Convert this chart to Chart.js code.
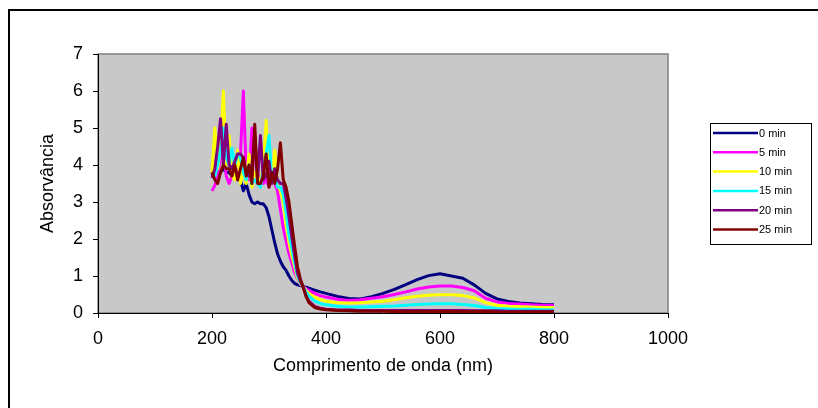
<!DOCTYPE html>
<html>
<head>
<meta charset="utf-8">
<script src="https://cdn.jsdelivr.net/npm/chart.js@4"></script>
<style>
  html, body { margin: 0; padding: 0; background: #fff; }
</style>
</head>
<body>
<canvas id="chart" width="818" height="408"></canvas>
<script>
// ============= DADOS =============
const wavelength = [200,205,210,215,220,225,230,235,240,245,250,255,260,265,270,275,280,285,290,295,300,305,310,315,320,325,330,335,340,
  345,350,355,360,365,370,380,390,400,420,440,460,480,500,520,540,560,580,600,620,640,660,680,700,720,740,760,780,800];

const seriesLabels = ['0 min', '5 min', '10 min', '15 min', '20 min', '25 min'];

const abs0 = [3.7,3.8,3.9,3.8,3.9,3.8,3.8,3.7,3.7,3.6,3.6,3.3,3.5,3.2,3.0,2.95,3.0,2.95,2.95,2.85,2.6,2.25,1.9,1.6,1.4,1.25,1.15,1.0,0.88,
  0.8,0.76,0.74,0.72,0.7,0.67,0.62,0.57,0.53,0.45,0.39,0.38,0.44,0.53,0.64,0.77,0.9,1.01,1.06,1.0,0.94,0.76,0.53,0.38,0.31,0.27,0.25,0.23,0.22];
const abs5 = [3.3,3.45,3.7,4.2,4.4,3.7,3.5,3.7,3.9,3.8,4.3,6.0,3.8,3.6,5.0,4.4,3.6,3.7,3.5,3.6,3.4,3.6,3.5,3.3,2.8,2.3,1.95,1.6,1.35,
  1.1,0.93,0.78,0.71,0.66,0.61,0.53,0.47,0.43,0.37,0.34,0.36,0.4,0.44,0.5,0.57,0.65,0.7,0.73,0.73,0.69,0.6,0.4,0.3,0.26,0.24,0.22,0.21,0.2];
const abs10 = [3.8,5.0,3.9,4.5,6.0,4.0,4.8,3.7,3.6,4.4,3.5,3.9,3.5,4.3,3.4,3.8,3.7,3.5,4.0,5.2,3.8,3.5,4.4,3.5,3.3,3.0,2.4,1.9,1.55,
  1.25,0.95,0.8,0.71,0.61,0.53,0.43,0.36,0.32,0.28,0.27,0.28,0.3,0.32,0.36,0.41,0.45,0.48,0.49,0.49,0.47,0.41,0.28,0.21,0.18,0.17,0.16,0.15,0.15];
const abs15 = [3.8,3.7,4.0,4.4,5.0,4.2,4.0,4.45,4.0,4.3,4.2,3.8,3.6,4.0,3.5,3.6,3.5,3.4,3.9,4.3,4.8,3.6,3.7,3.4,3.4,3.2,2.7,2.1,1.75,
  1.35,1.0,0.82,0.71,0.56,0.46,0.33,0.26,0.22,0.18,0.16,0.16,0.17,0.18,0.19,0.21,0.23,0.24,0.25,0.25,0.23,0.2,0.15,0.12,0.11,0.1,0.1,0.09,0.09];
const abs20 = [3.65,3.9,4.5,5.25,4.0,5.1,4.0,3.9,4.1,4.3,4.3,4.2,3.8,3.7,4.0,4.8,3.6,4.8,3.6,3.7,4.1,3.5,3.9,3.6,3.5,3.5,3.1,2.6,2.05,
  1.55,1.08,0.86,0.7,0.46,0.32,0.18,0.13,0.1,0.08,0.08,0.07,0.07,0.07,0.07,0.07,0.07,0.07,0.07,0.07,0.07,0.06,0.06,0.06,0.05,0.05,0.05,0.05,0.05];
const abs25 = [3.8,3.6,3.5,3.8,4.0,3.9,3.9,3.7,4.0,3.6,3.9,4.2,3.7,4.0,3.5,5.1,3.5,3.5,3.7,4.3,3.4,3.8,3.5,3.9,4.6,3.6,3.4,3.0,2.4,
  1.8,1.25,0.92,0.7,0.45,0.28,0.15,0.11,0.09,0.07,0.06,0.05,0.05,0.05,0.04,0.04,0.04,0.04,0.04,0.04,0.04,0.04,0.04,0.03,0.03,0.03,0.03,0.03,0.03];

const seriesValues = [abs0, abs5, abs10, abs15, abs20, abs25];
const seriesColors = ['#000080', '#FF00FF', '#FFFF00', '#00FFFF', '#800080', '#800000'];

const FONT = 'Liberation Sans, Arial, sans-serif';

// ============= PLUGINS =============
const moldura = {
  id: 'moldura',
  beforeDraw(chart) {
    const { ctx, chartArea: a } = chart;
    ctx.save();
    ctx.fillStyle = '#fff';
    ctx.fillRect(0, 0, chart.width, chart.height);
    ctx.strokeStyle = '#000';
    ctx.lineWidth = 2;
    ctx.strokeRect(9, 10, chart.width + 20, chart.height + 20);
    ctx.fillStyle = '#C8C8C8';
    ctx.fillRect(a.left, a.top, a.right - a.left, a.bottom - a.top);
    ctx.strokeStyle = '#808080';
    ctx.lineWidth = 1.5;
    ctx.strokeRect(a.left, a.top, a.right - a.left, a.bottom - a.top);
    ctx.restore();
  }
};

const legenda = {
  id: 'legenda',
  afterDraw(chart) {
    const { ctx } = chart;
    const x = 710, y = 123, w = 101, h = 121, step = 19.3;
    ctx.save();
    ctx.fillStyle = '#fff';
    ctx.fillRect(x, y, w, h);
    ctx.strokeStyle = '#000';
    ctx.lineWidth = 1;
    ctx.strokeRect(x + 0.5, y + 0.5, w, h);
    ctx.font = '11px ' + FONT;
    ctx.textBaseline = 'middle';
    ctx.fillStyle = '#000';
    seriesLabels.forEach((lab, i) => {
      const yy = y + 10 + i * step;
      ctx.strokeStyle = seriesColors[i];
      ctx.lineWidth = 2.5;
      ctx.beginPath();
      ctx.moveTo(x + 3, yy);
      ctx.lineTo(x + 48, yy);
      ctx.stroke();
      ctx.fillText(lab, x + 49, yy + 0.5);
    });
    ctx.restore();
  }
};

// ============= GRÁFICO =============
const datasets = seriesLabels.map((label, i) => ({
  label,
  data: wavelength.map((w, j) => ({ x: w, y: seriesValues[i][j] })),
  borderColor: seriesColors[i],
  borderWidth: 3,
  borderJoinStyle: 'round',
  pointRadius: 0,
  tension: 0,
  fill: false,
  order: seriesLabels.length - i
}));

new Chart(document.getElementById('chart'), {
  type: 'line',
  data: { datasets },
  plugins: [moldura, legenda],
  options: {
    responsive: false,
    animation: false,
    layout: { padding: { left: 37, top: 54, right: 150, bottom: 31 } },
    plugins: { legend: { display: false }, tooltip: { enabled: false } },
    scales: {
      x: {
        type: 'linear', min: 0, max: 1000,
        afterFit: s => { s.height = 64; },
        ticks: { stepSize: 200, color: '#000', padding: 10, font: { family: FONT, size: 18 }, maxRotation: 0, callback: v => String(v) },
        grid: { drawOnChartArea: false, tickLength: 5, color: '#000' },
        border: { color: '#000', width: 1 },
        title: { display: true, text: 'Comprimento de onda (nm)', color: '#000', padding: 0, font: { family: FONT, size: 18 } }
      },
      y: {
        min: 0, max: 7,
        afterFit: s => { s.width = 61; },
        ticks: { stepSize: 1, color: '#000', padding: 10, font: { family: FONT, size: 18 } },
        grid: { drawOnChartArea: false, tickLength: 5, color: '#000' },
        border: { color: '#000', width: 1 },
        title: { display: true, text: 'Absorvância', color: '#000', padding: 0, font: { family: FONT, size: 18 } }
      }
    }
  }
});
</script>
</body>
</html>
